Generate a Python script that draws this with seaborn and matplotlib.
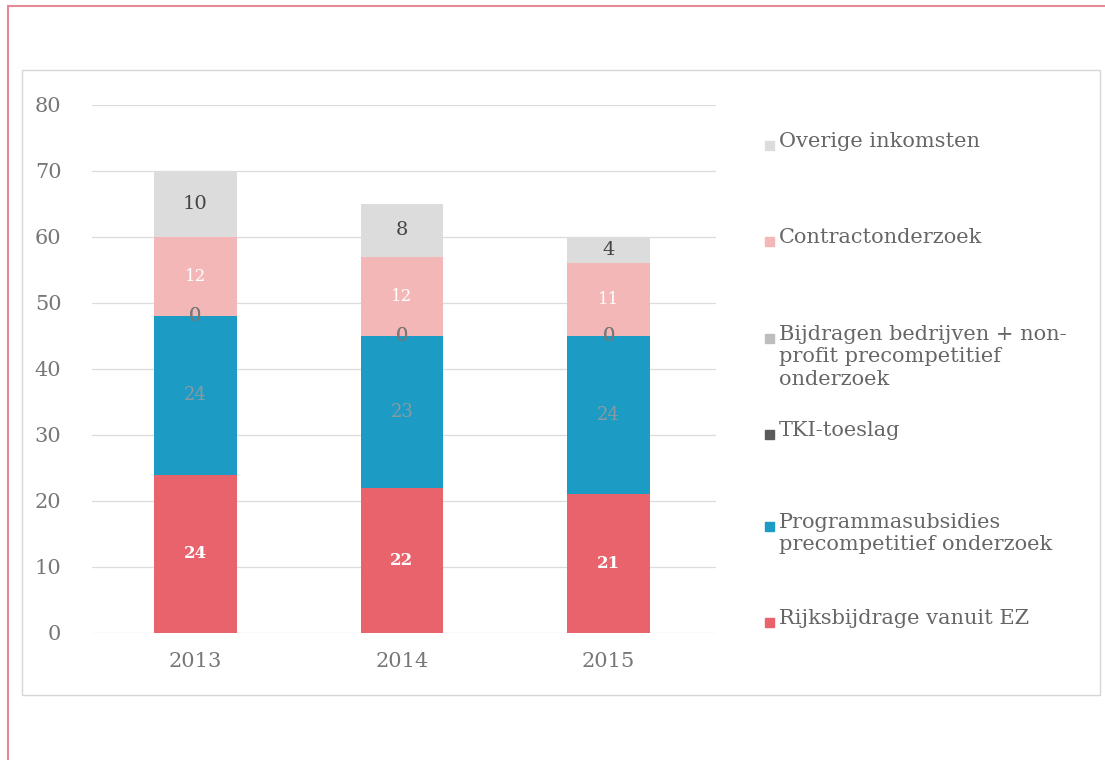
import numpy as np
import pandas as pd
import matplotlib.pyplot as plt
import seaborn as sns
from matplotlib.patches import Rectangle
from matplotlib.lines import Line2D

years = ['2013', '2014', '2015']
rijks = [24, 22, 21]
programma = [24, 23, 24]
tki = [0, 0, 0]
bijdragen = [0, 0, 0]
contract = [12, 12, 11]
overige = [10, 8, 4]

series = ['Rijksbijdrage vanuit EZ', 'Programmasubsidies\nprecompetitief onderzoek', 'TKI-toeslag',
          'Bijdragen bedrijven + non-\nprofit precompetitief\nonderzoek', 'Contractonderzoek', 'Overige inkomsten']
values = [rijks, programma, tki, bijdragen, contract, overige]
colors = ['#e9636c', '#1c9bc4', '#5a5a5a', '#bdbdbd', '#f4b7b8', '#dcdcdc']
label_colors = ['white', '#8a9aa0', '#777777', '#777777', 'white', '#444444']

sns.set_theme(style="white")
plt.rcParams['font.family'] = ['DejaVu Serif']

W, H = 1105, 760
fig = plt.figure(figsize=(W / 100, H / 100), dpi=100)
ax = fig.add_axes([92 / W, 1 - 633 / H, (716 - 92) / W, (633 - 105) / H])

df = pd.DataFrame({'jaar': years})
cum = np.cumsum(np.array(values), axis=0)

# stacked bars: draw cumulative totals from top to bottom
for i in range(len(series) - 1, -1, -1):
    df['h'] = cum[i]
    sns.barplot(data=df, x='jaar', y='h', color=colors[i], width=0.4,
                saturation=1, linewidth=0, ax=ax, zorder=2)

# segment labels
for i in range(len(series)):
    for j in range(len(years)):
        v = values[i][j]
        base = cum[i][j] - v
        ax.text(j, base + v / 2, str(v), ha='center', va='center',
                fontsize=12 if i in (0, 4) else (13 if i == 1 else 14),
                fontweight='bold' if i == 0 else 'normal',
                color=label_colors[i], zorder=3)

ax.set_xlim(-0.5, 2.52)
ax.set_ylim(0, 80)
ax.set_yticks(range(0, 81, 10))
ax.yaxis.grid(True, color='#dcdcdc', linewidth=0.9)
ax.set_axisbelow(True)
for s in ax.spines.values():
    s.set_visible(False)
ax.set_xlabel('')
ax.set_ylabel('')
ax.tick_params(axis='both', length=0, labelsize=15, colors='#777777')
ax.tick_params(axis='y', pad=22)
ax.tick_params(axis='x', pad=14)

# legend, top to bottom
leg_y = [145, 241, 338, 434, 526, 622]
for k, i in enumerate(range(len(series) - 1, -1, -1)):
    y = leg_y[k]
    fig.add_artist(Rectangle((765 / W, 1 - (y + 5) / H), 9 / W, 9 / H,
                             transform=fig.transFigure, color=colors[i]))
    fig.text(779 / W, 1 - (y - 13) / H, series[i], ha='left', va='top',
             fontsize=15, color='#666666', linespacing=1.22)

# frames
fig.add_artist(Rectangle((22 / W, 1 - 695 / H), (1100 - 22) / W, (695 - 70) / H,
                         transform=fig.transFigure, fill=False, edgecolor='#d6d6d6', linewidth=1))
fig.add_artist(Line2D([8 / W, 8 / W], [0, 1 - 6 / H], transform=fig.transFigure,
                      color='#e58a93', linewidth=1.5))
fig.add_artist(Line2D([8 / W, 1], [1 - 6 / H, 1 - 6 / H], transform=fig.transFigure,
                      color='#e58a93', linewidth=1.5))

fig.savefig('out.png', dpi=100)
